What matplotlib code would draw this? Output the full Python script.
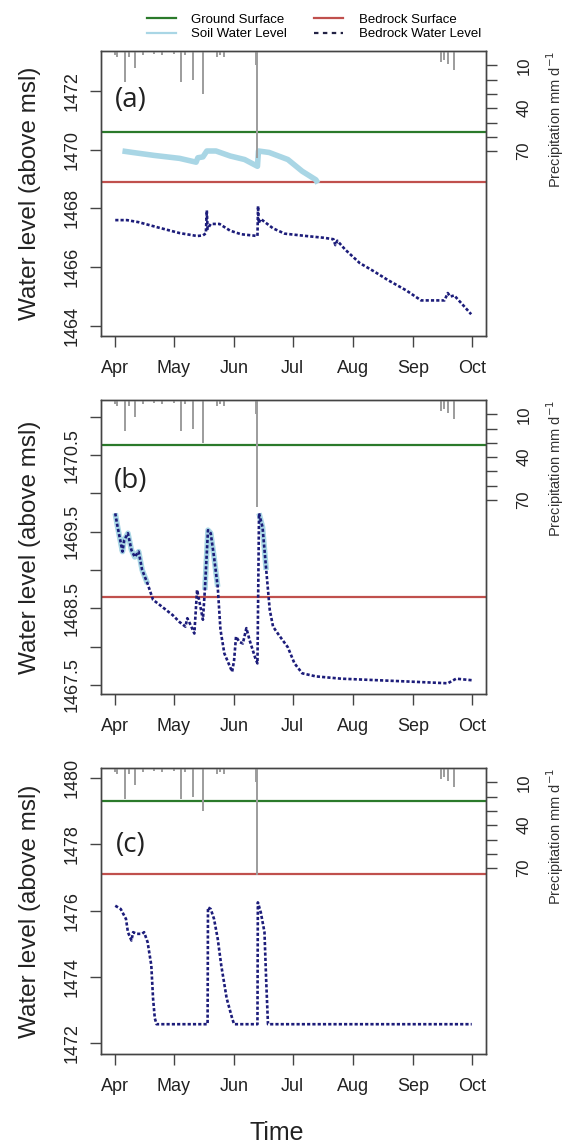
import numpy as np
import matplotlib
matplotlib.use("Agg")
import matplotlib.pyplot as plt
import matplotlib.transforms as mtransforms
from matplotlib.lines import Line2D

plt.rcParams["font.family"] = ["Liberation Sans", "DejaVu Sans"]
plt.rcParams["axes.linewidth"] = 1.0

W, H = 565, 1147

# ---------- data (days since 1 Apr) ----------
month_days = [0, 30, 61, 91, 122, 153, 183]
month_labels = ["Apr", "May", "Jun", "Jul", "Aug", "Sep", "Oct"]

rain_day = [0, 1, 5, 7, 10, 14, 20, 24, 30, 34, 36, 40, 45, 52, 54, 56, 72, 73, 167, 169, 171, 174]
rain_mm = [3, 4, 22, 4, 12, 3, 2, 3, 2, 22, 3, 20, 30, 4, 3, 4, 10, 75, 8, 6, 9, 13]

# (a)
ground_a, rock_a = 1470.59, 1468.88
soil_a_day = [3.7, 9, 20, 33, 41.5, 42.4, 45, 47, 51.7, 59, 66.4, 73, 73.5, 79, 88.6, 96, 103, 104]
soil_a_lvl = [1469.95, 1469.9, 1469.8, 1469.7, 1469.57, 1469.72, 1469.75, 1469.95, 1469.95,
              1469.78, 1469.66, 1469.43, 1469.95, 1469.9, 1469.66, 1469.26, 1468.97, 1468.85]
bw_a_day = [0, 6, 12, 22, 33, 42, 45, 46.5, 47, 47.4, 49, 53.5, 59, 64.6, 73, 73.3, 73.6, 74.7,
            81, 87, 98, 107, 112, 113, 114, 118, 125.5, 133, 140, 149.4, 157, 162, 169, 170.7,
            172, 174, 178, 182.7]
bw_a_lvl = [1467.6, 1467.6, 1467.53, 1467.35, 1467.16, 1467.06, 1467.08, 1467.15, 1467.93, 1467.3,
            1467.47, 1467.47, 1467.24, 1467.12, 1467.06, 1468.08, 1467.5, 1467.64, 1467.32, 1467.14,
            1467.06, 1467.0, 1466.95, 1466.75, 1466.9, 1466.6, 1466.14, 1465.85, 1465.56, 1465.21,
            1464.87, 1464.87, 1464.87, 1465.12, 1465.0, 1465.04, 1464.75, 1464.4]

# (b)
ground_b, rock_b = 1470.63, 1468.65
bw_b_day = [0, 1, 3.7, 4.6, 6.5, 8.3, 10, 12, 13.8, 16.6, 19.4, 22, 26, 29.5, 33, 36, 37, 38.7,
            40.6, 42, 43.4, 45, 46, 47.6, 49, 50.7, 52.6, 54, 56, 60, 61, 62, 63.7, 65.5, 67.3,
            69, 72, 73, 73.8, 75.6, 77.5, 79.3, 81, 84, 88.6, 92, 96, 103, 116, 134.7, 153,
            170.7, 175, 183]
bw_b_lvl = [1469.74, 1469.59, 1469.24, 1469.39, 1469.48, 1469.26, 1469.17, 1469.24, 1469.0,
            1468.82, 1468.61, 1468.56, 1468.48, 1468.41, 1468.32, 1468.26, 1468.37, 1468.28,
            1468.17, 1468.74, 1468.56, 1468.35, 1468.74, 1469.52, 1469.48, 1469.17, 1468.78,
            1468.22, 1467.91, 1467.67, 1467.82, 1468.13, 1468.06, 1468.04, 1468.24, 1468.08,
            1467.84, 1467.78, 1469.74, 1469.56, 1469.0, 1468.48, 1468.26, 1468.15, 1467.99,
            1467.78, 1467.65, 1467.61, 1467.58, 1467.56, 1467.54, 1467.52, 1467.58, 1467.56]

# (c)
ground_c, rock_c = 1479.31, 1477.12
bw_c_day = [0, 2.8, 5.5, 6.5, 8.3, 9.2, 11, 13.8, 14.8, 16.6, 18.5, 19.4, 20.3, 21.2, 47.4,
            47.6, 49, 50.7, 52.6, 54.4, 57.2, 60, 61, 73, 73.2, 74.7, 76.6, 77.5, 78.4, 183]
bw_c_lvl = [1476.15, 1476.05, 1475.75, 1475.35, 1475.1, 1475.35, 1475.3, 1475.3, 1475.35,
            1475.05, 1474.35, 1473.35, 1472.75, 1472.57, 1472.57, 1476.1, 1476.05, 1475.75,
            1475.15, 1474.35, 1473.35, 1472.75, 1472.57, 1472.57, 1476.25, 1475.95, 1475.35,
            1473.85, 1472.57, 1472.57]

C_GROUND = "#2b7a2b"
C_ROCK = "#c0504d"
C_SOIL = "#a9d6e5"
C_NAVY = "#1c1c7a"
C_RAIN = "#9c9c9c"
C_AX = "#444444"

fig = plt.figure(figsize=(W / 100, H / 100), dpi=100)


def px_rect(left, top, right, bottom):
    return [left / W, 1 - bottom / H, (right - left) / W, (bottom - top) / H]


def panel(rect, ylim, yticks, ylabels, ground, rock, bw_day, bw_lvl, tag, tag_y,
          soil_day=None, soil_lvl=None, pmax=200):
    ax = fig.add_axes(rect)
    ax.axhline(ground, color=C_GROUND, lw=1.6, zorder=2)
    ax.axhline(rock, color=C_ROCK, lw=1.6, zorder=2)
    if soil_day is not None:
        ax.plot(soil_day, soil_lvl, color=C_SOIL, lw=4, zorder=3, solid_capstyle="butt")
    ax.plot(bw_day, bw_lvl, color=C_NAVY, lw=1.9, ls=(0, (1.2, 0.8)), zorder=4)
    ax.set_xlim(-7.32, 190.32)
    ax.set_ylim(*ylim)
    ax.set_xticks(month_days)
    ax.set_xticklabels(month_labels, fontsize=13)
    ax.set_yticks(yticks)
    ax.set_yticklabels(ylabels, fontsize=13, rotation=90, va="center")
    ax.tick_params(axis="both", direction="out", length=8, width=1.0, color=C_AX,
                   labelcolor="#222222")
    ax.tick_params(axis="x", pad=9)
    ax.tick_params(axis="y", pad=7)
    for s in ax.spines.values():
        s.set_color(C_AX)
    ax.text(0.078, tag_y, tag, transform=ax.transAxes, ha="center", va="center",
            fontsize=20, family=["Open Sans", "DejaVu Sans"], color="#222222")

    ax2 = ax.twinx()
    ax2.vlines(rain_day, 0, rain_mm, color=C_RAIN, lw=1.4, zorder=1)
    ax2.set_ylim(pmax, 0)
    ax2.set_yticks(range(10, 80, 10))
    ax2.set_yticklabels(["10", "", "", "40", "", "", "70"], fontsize=12, rotation=90, va="center")
    ax2.tick_params(axis="y", direction="out", length=8, width=1.0, color=C_AX,
                    labelcolor="#222222", pad=14)
    for s in ax2.spines.values():
        s.set_color(C_AX)
    tr = mtransforms.blended_transform_factory(ax2.transAxes, ax2.transData)
    ax2.text(1.179, 48, r"Precipitation mm d$^{-1}$", transform=tr, rotation=90,
             ha="center", va="center", fontsize=10.5, color="#333333")

    cy = (1 - (rect[1] + rect[3] / 2))
    fig.text(30 / W, 1 - cy, "Water level (above msl)", rotation=90, ha="center",
             va="center", fontsize=17.5, color="#222222")
    return ax


ax_a = panel(px_rect(101, 51, 486, 336), (1463.66, 1473.35), [1464, 1466, 1468, 1470, 1472],
             ["1464", "1466", "1468", "1470", "1472"], ground_a, rock_a, bw_a_day, bw_a_lvl,
             "(a)", 0.828, soil_a_day, soil_a_lvl, pmax=285 / 1.43)

# soil water in (b) is visible only where the water table is above the bedrock surface
bw_b = np.array(bw_b_lvl)
soil_b = np.where(bw_b > rock_b, bw_b, np.nan)
b_ticks = [1467.5, 1468.0, 1468.5, 1469.0, 1469.5, 1470.0, 1470.5, 1471.0]
b_labels = ["1467.5", "", "1468.5", "", "1469.5", "", "1470.5", ""]
ax_b = panel(px_rect(101, 400, 486, 694), (1467.38, 1471.22), b_ticks, b_labels,
             ground_b, rock_b, bw_b_day, bw_b_lvl, "(b)", 0.724, bw_b_day, soil_b,
             pmax=294 / 1.43)

ax_c = panel(px_rect(101, 768, 486, 1054), (1471.67, 1480.31), [1472, 1474, 1476, 1478, 1480],
             ["1472", "1474", "1476", "1478", "1480"], ground_c, rock_c, bw_c_day, bw_c_lvl,
             "(c)", 0.731, pmax=286 / 1.43)

fig.text(277 / W, 1 - 1133 / H, "Time", ha="center", va="center", fontsize=18, color="#222222")

handles = [
    Line2D([], [], color=C_GROUND, lw=1.6),
    Line2D([], [], color=C_SOIL, lw=1.6),
    Line2D([], [], color=C_ROCK, lw=1.6),
    Line2D([], [], color="#222244", lw=1.6, ls=(0, (2, 2))),
]
labels = ["Ground Surface", "Soil Water Level", "Bedrock Surface", "Bedrock Water Level"]
fig.legend(handles, labels, ncol=2, loc="center left", bbox_to_anchor=(140 / W, 1 - 27 / H),
           frameon=False, fontsize=9.5, handlelength=2.2, handletextpad=1.2,
           columnspacing=2.0, labelspacing=0.15, borderpad=0)

fig.savefig("out.png", dpi=100)
